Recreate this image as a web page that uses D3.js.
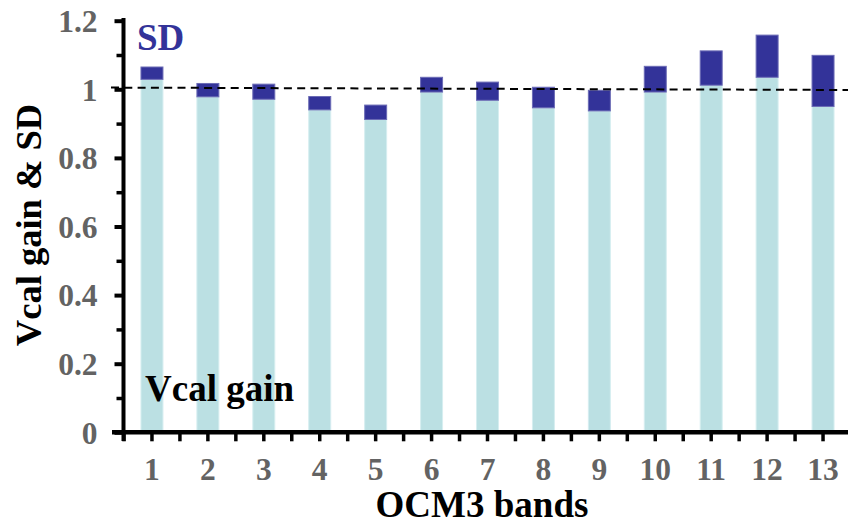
<!DOCTYPE html>
<html>
<head>
<meta charset="utf-8">
<script src="https://cdn.jsdelivr.net/npm/d3@7"></script>
<style>
  html, body { margin: 0; padding: 0; background: #ffffff; }
  svg { display: block; }
  svg text {
    font-family: "Liberation Serif", Tinos, "Times New Roman", Times, serif;
    font-weight: bold;
  }
</style>
</head>
<body>
<svg id="chart" width="848" height="524"></svg>
<script>
// OCM3 band numbers
const bands = ["1", "2", "3", "4", "5", "6", "7", "8", "9", "10", "11", "12", "13"];
// Vicarious calibration gain per band
const vcalGain = [1.029, 0.978, 0.971, 0.940, 0.912, 0.992, 0.968, 0.946, 0.937, 0.992, 1.012, 1.035, 0.950];
// Standard deviation stacked on top of the gain
const sd = [0.036, 0.039, 0.044, 0.039, 0.042, 0.043, 0.053, 0.060, 0.060, 0.075, 0.100, 0.123, 0.149];
// Major / minor y ticks and their labels
const yMajorTicks = [0, 0.2, 0.4, 0.6, 0.8, 1.0, 1.2];
const yTickLabels = ["0", "0.2", "0.4", "0.6", "0.8", "1", "1.2"];
const yMinorTicks = [0.1, 0.3, 0.5, 0.7, 0.9, 1.1];
// Unity reference line (value at left and right ends)
const refLine = [1.005, 0.998];

const svg = d3.select("#chart");

const y = d3.scaleLinear().domain([0, 1.2]).range([432.3, 20.7]);
const x = d3.scaleBand().domain(bands).range([124, 851])
  .paddingInner(0.607).paddingOuter(0.3035);

const lightFill = "#bbe0e3";
const darkFill = "#333399";

// Gain bars
svg.append("g").selectAll("rect")
  .data(bands)
  .join("rect")
  .attr("x", d => x(d))
  .attr("width", x.bandwidth())
  .attr("y", (d, i) => y(vcalGain[i]))
  .attr("height", (d, i) => y(0) - y(vcalGain[i]))
  .attr("fill", lightFill)
  .attr("stroke", "#d6eef0")
  .attr("stroke-width", 1);

// SD segments
svg.append("g").selectAll("rect")
  .data(bands)
  .join("rect")
  .attr("x", d => x(d))
  .attr("width", x.bandwidth())
  .attr("y", (d, i) => y(vcalGain[i] + sd[i]))
  .attr("height", (d, i) => y(vcalGain[i]) - y(vcalGain[i] + sd[i]))
  .attr("fill", darkFill)
  .attr("stroke", "#6b6bb5")
  .attr("stroke-width", 1);

// Dashed unity line
svg.append("line")
  .attr("x1", 111).attr("x2", 848)
  .attr("y1", y(refLine[0])).attr("y2", y(refLine[1]))
  .attr("stroke", "#000")
  .attr("stroke-width", 2)
  .attr("stroke-dasharray", "8,5.3");

// Y axis
const yAxisX = 123.5;
const yAxis = svg.append("g").attr("transform", `translate(${yAxisX},0)`);
yAxis.call(d3.axisLeft(y).tickValues(yMajorTicks).tickSize(9).tickSizeOuter(0)
  .tickPadding(17).tickFormat((d, i) => yTickLabels[i]));
yAxis.attr("font-family", null);
yAxis.select(".domain").remove();
yAxis.selectAll(".tick line").attr("stroke", "#000").attr("stroke-width", 4);
yAxis.selectAll(".tick text")
  .attr("fill", "#636363")
  .style("font-size", "31.5px")
  .attr("dy", "0.34em");

const yMinor = svg.append("g").attr("transform", `translate(${yAxisX},0)`);
yMinor.call(d3.axisLeft(y).tickValues(yMinorTicks).tickSize(7).tickSizeOuter(0).tickFormat(""));
yMinor.select(".domain").remove();
yMinor.selectAll(".tick line").attr("stroke", "#000").attr("stroke-width", 3.5);

svg.append("line")
  .attr("x1", yAxisX).attr("x2", yAxisX)
  .attr("y1", 18).attr("y2", 441)
  .attr("stroke", "#000").attr("stroke-width", 4);

// X axis: ticks at band centres and band edges
const step = x.step();
const xTickPos = d3.range(0, 27).map(k => 124 + k * step / 2);
svg.append("line")
  .attr("x1", 112).attr("x2", 848)
  .attr("y1", y(0)).attr("y2", y(0))
  .attr("stroke", "#000").attr("stroke-width", 4.5);
svg.append("g").selectAll("line")
  .data(xTickPos)
  .join("line")
  .attr("x1", d => d).attr("x2", d => d)
  .attr("y1", y(0)).attr("y2", y(0) + 9)
  .attr("stroke", "#000").attr("stroke-width", 3.5);

svg.append("g").selectAll("text")
  .data(bands)
  .join("text")
  .attr("x", d => x(d) + x.bandwidth() / 2)
  .attr("y", 480)
  .attr("text-anchor", "middle")
  .attr("fill", "#636363")
  .style("font-size", "31.5px")
  .text(d => d);

// Axis titles
svg.append("text")
  .attr("x", 482).attr("y", 517)
  .attr("text-anchor", "middle")
  .attr("fill", "#000")
  .style("font-size", "37px")
  .text("OCM3 bands");

svg.append("text")
  .attr("transform", "translate(41,225) rotate(-90)")
  .attr("text-anchor", "middle")
  .attr("fill", "#000")
  .style("font-size", "36.5px")
  .text("Vcal gain & SD");

// Series labels
svg.append("text")
  .attr("x", 137).attr("y", 50)
  .attr("fill", darkFill)
  .style("font-size", "37px")
  .text("SD");

svg.append("text")
  .attr("x", 145).attr("y", 401)
  .attr("fill", "#000")
  .style("font-size", "37px")
  .text("Vcal gain");
</script>
</body>
</html>
